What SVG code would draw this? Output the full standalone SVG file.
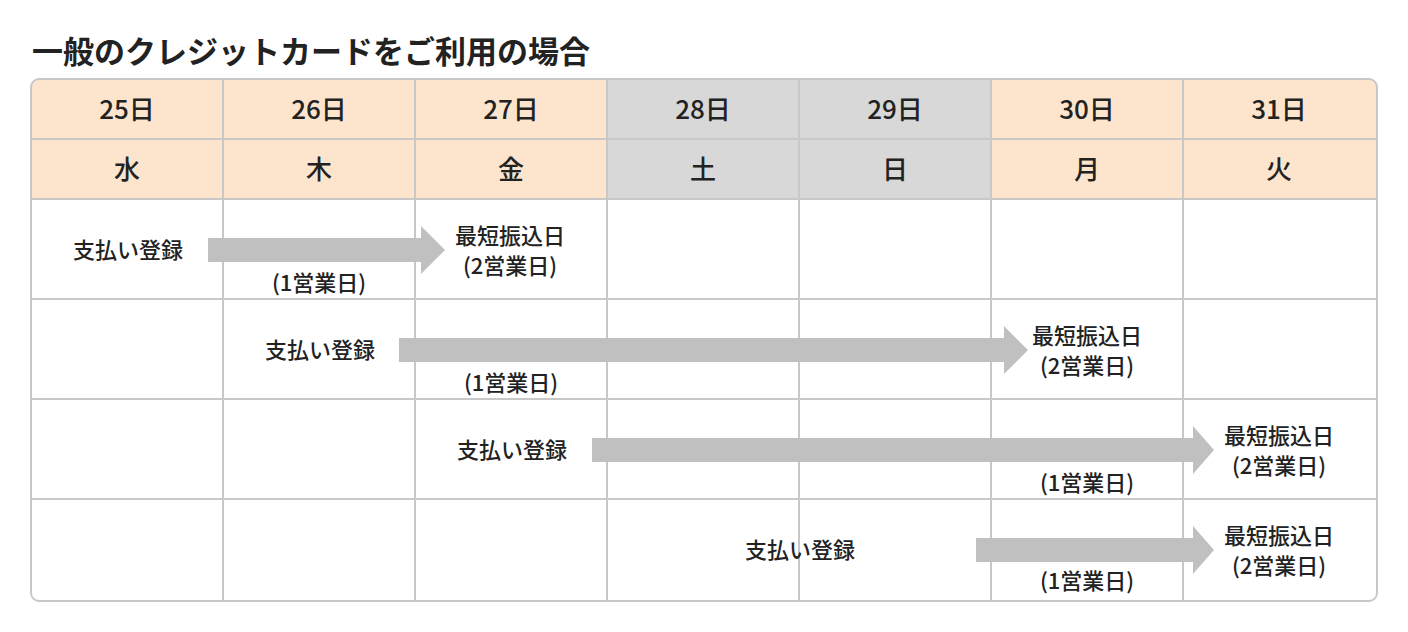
<svg xmlns="http://www.w3.org/2000/svg" width="1408" height="632" viewBox="0 0 1408 632">
<style>
text{font-family:"Noto Sans CJK JP","Liberation Sans",sans-serif;fill:#222;text-anchor:middle}
.h{font-size:26px;font-weight:500}
.t{font-size:22px;font-weight:500}
.ln{stroke:#c8c8c8;stroke-width:2;fill:none}
.ar{fill:#c0c0c0}
</style>
<rect width="1408" height="632" fill="#fff"/>
<text x="32" y="63" style="font-size:31px;font-weight:700;text-anchor:start">一般のクレジットカードをご利用の場合</text>
<g id="table">
<clipPath id="c"><rect x="31" y="79" width="1346" height="522" rx="8"/></clipPath>
<g clip-path="url(#c)">
<rect x="31" y="79" width="576" height="120" fill="#fde5cd"/>
<rect x="607" y="79" width="384" height="120" fill="#d8d8d8"/>
<rect x="991" y="79" width="386" height="120" fill="#fde5cd"/>
</g>
<rect class="ln" x="31" y="79" width="1346" height="522" rx="8"/>
<path class="ln" d="M31 139H1377M31 199H1377M31 299H1377M31 399H1377M31 499H1377M223 79V601M415 79V601M607 79V601M799 79V601M991 79V601M1183 79V601"/>
</g>
<g id="headers" class="h">
<text x="127" y="119">25日</text><text x="319" y="119">26日</text><text x="511" y="119">27日</text><text x="703" y="119">28日</text><text x="895" y="119">29日</text><text x="1087" y="119">30日</text><text x="1279" y="119">31日</text>
<text x="127" y="179">水</text><text x="319" y="179">木</text><text x="511" y="179">金</text><text x="703" y="179">土</text><text x="895" y="179">日</text><text x="1087" y="179">月</text><text x="1279" y="179">火</text>
</g>
<g id="connectors">
<path class="ar" d="M208 238H421V226L445 250L421 274V262H208Z"/>
<path class="ar" d="M399 338H1004V326L1028 350L1004 374V362H399Z"/>
<path class="ar" d="M592 438H1193V426L1214 450L1193 474V462H592Z"/>
<path class="ar" d="M976 538H1193V526L1214 550L1193 574V562H976Z"/>
</g>
<g id="row1" class="t">
<text x="128" y="258">支払い登録</text><text x="319" y="291">(1営業日)</text><text x="510" y="244">最短振込日</text><text x="510" y="274">(2営業日)</text>
</g>
<g id="row2" class="t">
<text x="320" y="358">支払い登録</text><text x="511" y="391">(1営業日)</text><text x="1087" y="344">最短振込日</text><text x="1087" y="374">(2営業日)</text>
</g>
<g id="row3" class="t">
<text x="512" y="458">支払い登録</text><text x="1087" y="491">(1営業日)</text><text x="1279" y="444">最短振込日</text><text x="1279" y="474">(2営業日)</text>
</g>
<g id="row4" class="t">
<text x="800" y="558">支払い登録</text><text x="1087" y="589">(1営業日)</text><text x="1279" y="544">最短振込日</text><text x="1279" y="574">(2営業日)</text>
</g>
</svg>
